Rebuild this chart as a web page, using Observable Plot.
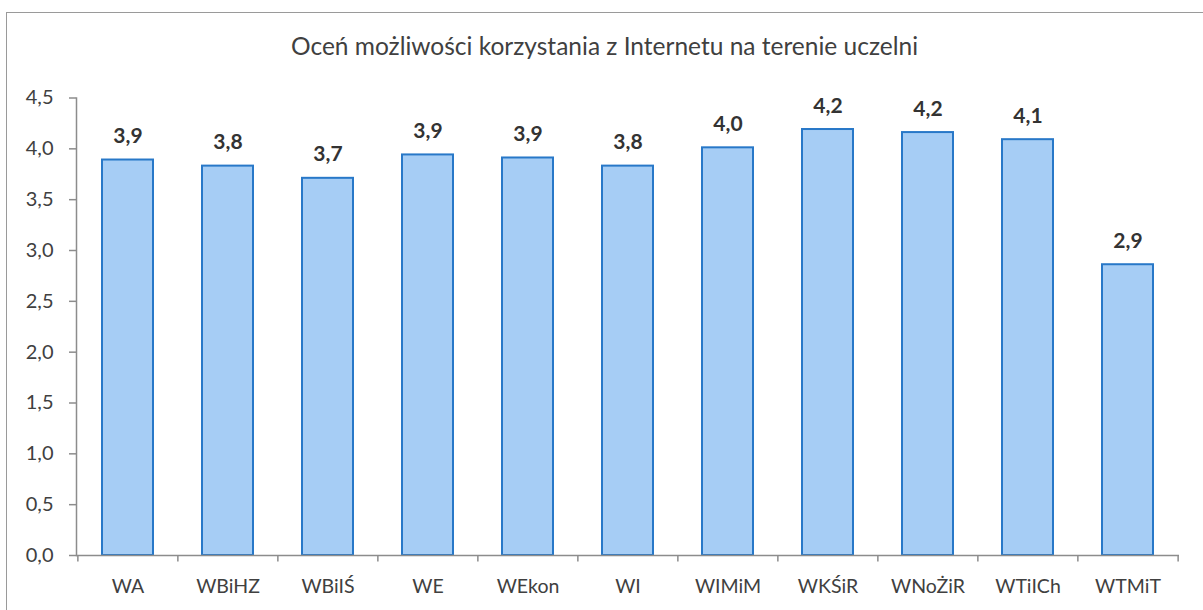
<!DOCTYPE html>
<html>
<head>
<meta charset="utf-8">
<script src="https://cdn.jsdelivr.net/npm/d3@7"></script>
<script src="https://cdn.jsdelivr.net/npm/@observablehq/plot@0.6"></script>
<style>
  html, body { margin: 0; padding: 0; background: #fff; overflow: hidden; }
  #wrap { position: relative; width: 1203px; height: 610px; font-family: Lato, "Open Sans", sans-serif; }
  #border { position: absolute; left: 6px; top: 12px; width: 1300px; height: 700px;
            border-left: 1.5px solid #9a9a9a; border-top: 1.5px solid #9a9a9a; }
  #title { position: absolute; left: 0; top: 0; width: 1203px; height: 70px; text-align: center;
           padding-left: 6px; box-sizing: border-box; font-size: 24.5px; line-height: 24.5px; color: #404040; padding-top: 34px; }
  #chart { position: absolute; left: 0; top: 70px; }
</style>
</head>
<body>
<div id="wrap">
  <div id="border"></div>
  <div id="title">Oceń możliwości korzystania z Internetu na terenie uczelni</div>
  <div id="chart"></div>
</div>
<script>
const categories = ["WA", "WBiHZ", "WBiIŚ", "WE", "WEkon", "WI", "WIMiM", "WKŚiR", "WNoŻiR", "WTiICh", "WTMiT"];
const values = [3.89, 3.83, 3.71, 3.94, 3.91, 3.83, 4.01, 4.19, 4.16, 4.09, 2.86];
const yTicks = [0, 0.5, 1, 1.5, 2, 2.5, 3, 3.5, 4, 4.5];

const data = categories.map((c, i) => ({cat: c, value: values[i]}));
const fmt = d => d.toFixed(1).replace(".", ",");

const W = 1203, H = 540, ML = 76, MR = 24;
const step = (W - ML - MR) / categories.length;

const plot = Plot.plot({
  width: W,
  height: H,
  marginTop: 27.5,
  marginBottom: 55,
  marginLeft: ML,
  marginRight: MR,
  style: {fontFamily: "Lato, 'Open Sans', sans-serif", fontSize: "20px", color: "#404040", background: "transparent", overflow: "visible"},
  x: {domain: categories, paddingInner: 0.49, paddingOuter: 0.245, label: null},
  y: {domain: [0, 4.5], label: null},
  marks: [
    Plot.barY(data, {x: "cat", y: "value", fill: "#a6cdf5", stroke: "#2878c8", strokeWidth: 2}),
    Plot.frame({anchor: "left", stroke: "#8c8c8c", strokeWidth: 1.5}),
    Plot.ruleY([0], {stroke: "#8c8c8c", strokeWidth: 1.5}),
    Plot.ruleX(categories, {x: d => d, dx: -step / 2, y1: 0, y2: -0.065, stroke: "#8c8c8c", strokeWidth: 1.5}),
    Plot.ruleX(categories.slice(-1), {x: d => d, dx: step / 2, y1: 0, y2: -0.065, stroke: "#8c8c8c", strokeWidth: 1.5}),
    Plot.axisY({ticks: yTicks, tickFormat: fmt, tickSize: 7, tickPadding: 16, stroke: "#8c8c8c", strokeWidth: 1.5, fill: "#404040", fontSize: 20}),
    Plot.axisX({tickSize: 0, tickPadding: 24, fill: "#404040", fontSize: 19.5}),
    Plot.text(data, {x: "cat", y: "value", text: d => fmt(d.value), dy: -17, lineAnchor: "bottom", fontWeight: "bold", fontSize: 21, fill: "#333"})
  ]
});
document.getElementById("chart").appendChild(plot);
</script>
</body>
</html>
